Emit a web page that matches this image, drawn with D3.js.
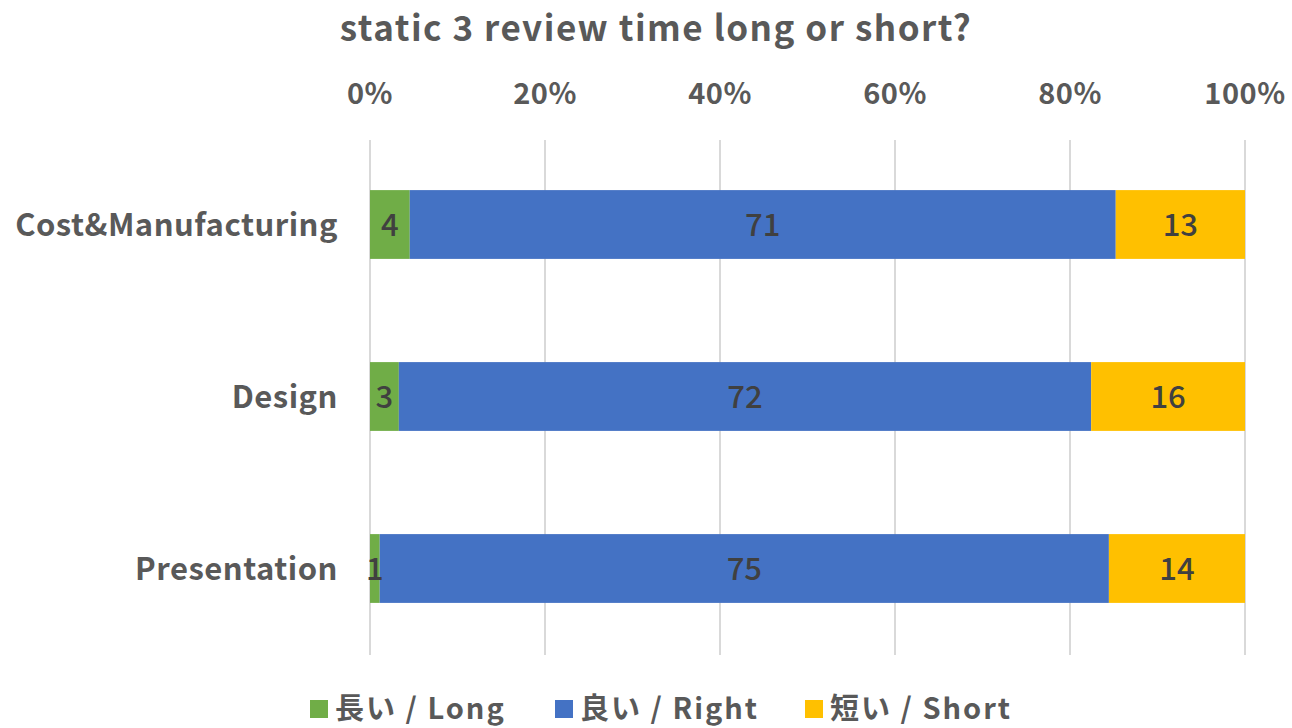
<!DOCTYPE html>
<html>
<head>
<meta charset="utf-8">
<script src="https://cdn.jsdelivr.net/npm/d3@7"></script>
<style>
  body { margin: 0; background: #fff; }
  text { font-family: "Noto Sans CJK JP", "Noto Sans", sans-serif; }
</style>
</head>
<body>
<svg id="chart" width="1292" height="728"></svg>
<script>
// data
const categories = ['Cost&Manufacturing', 'Design', 'Presentation'];
const seriesNames = ['長い / Long', '良い / Right', '短い / Short'];
const seriesColors = ['#70ad47', '#4472c4', '#ffc000'];
const longVals = [4, 3, 1];
const rightVals = [71, 72, 75];
const shortVals = [13, 16, 14];
const tickVals = [0, 0.2, 0.4, 0.6, 0.8, 1];

const svg = d3.select('#chart');

const x = d3.scaleLinear().domain([0, 1]).range([370, 1245]);
const y = d3.scaleBand().domain(categories).range([138.5, 654.5])
    .paddingInner(0.6).paddingOuter(0.3);

// title
svg.append('text')
    .attr('x', 656).attr('y', 41)
    .attr('text-anchor', 'middle')
    .style('font-size', '35px').style('font-weight', 'bold')
    .style('letter-spacing', '1.5px')
    .style('fill', '#595959')
    .text('static 3 review time long or short?');

// gridlines
svg.append('g').selectAll('line')
    .data(tickVals)
    .join('line')
    .attr('x1', d => x(d)).attr('x2', d => x(d))
    .attr('y1', 140).attr('y2', 655)
    .style('stroke', '#d9d9d9').style('stroke-width', 2);

// top axis labels
svg.append('g').selectAll('text')
    .data(tickVals)
    .join('text')
    .attr('x', d => x(d)).attr('y', 104)
    .attr('text-anchor', 'middle')
    .style('font-size', '29px').style('font-weight', 'bold')
    .style('letter-spacing', '0.5px')
    .style('fill', '#595959')
    .text(d => d3.format('.0%')(d));

// category labels
svg.append('g').selectAll('text')
    .data(categories)
    .join('text')
    .attr('x', 338).attr('y', d => y(d) + y.bandwidth() / 2 + 11)
    .attr('text-anchor', 'end')
    .style('font-size', '31px').style('font-weight', 'bold')
    .style('letter-spacing', '0.5px')
    .style('fill', '#595959')
    .text(d => d);

// stacked rows
const rows = categories.map((c, i) => {
    const vals = [longVals[i], rightVals[i], shortVals[i]];
    const total = d3.sum(vals);
    let acc = 0;
    return vals.map((v, s) => {
        const seg = { cat: c, s: s, v: v, x0: acc / total, x1: (acc + v) / total };
        acc += v;
        return seg;
    });
}).flat();

svg.append('g').selectAll('rect')
    .data(rows)
    .join('rect')
    .attr('x', d => x(d.x0))
    .attr('y', d => y(d.cat))
    .attr('width', d => x(d.x1) - x(d.x0))
    .attr('height', y.bandwidth())
    .style('fill', d => seriesColors[d.s]);

svg.append('g').selectAll('text')
    .data(rows)
    .join('text')
    .attr('x', d => (x(d.x0) + x(d.x1)) / 2)
    .attr('y', d => y(d.cat) + y.bandwidth() / 2 + 11)
    .attr('text-anchor', 'middle')
    .style('font-size', '31px').style('font-weight', '500')
    .style('fill', '#404040')
    .text(d => d.v);

// legend
const legendX = [310, 555, 805];
const legend = svg.append('g').selectAll('g')
    .data(seriesNames)
    .join('g')
    .attr('transform', (d, i) => `translate(${legendX[i]},700)`);
legend.append('rect')
    .attr('width', 18).attr('height', 18)
    .style('fill', (d, i) => seriesColors[i]);
legend.append('text')
    .attr('x', 25).attr('y', 19)
    .style('font-size', '29px').style('font-weight', 'bold')
    .style('letter-spacing', '2px')
    .style('fill', '#595959')
    .text(d => d);
</script>
</body>
</html>
